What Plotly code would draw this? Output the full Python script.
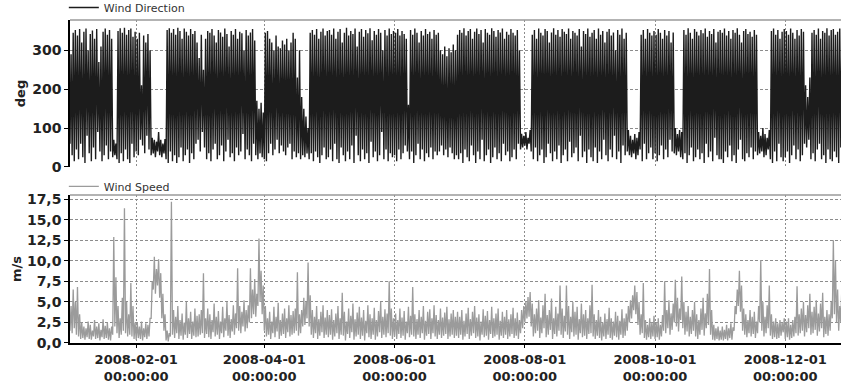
import pandas as pd
import plotly.graph_objects as go
from plotly.subplots import make_subplots

# ---- data: daily envelope (2008-01-01 .. 2008-12-31) ----
dir_hi = [
    # Jan
    290, 345, 352, 338, 355, 320, 348, 356, 300, 342, 351, 330, 355, 270, 310, 348, 356, 340, 352, 330, 70, 60, 350, 357, 345, 358, 340, 352, 356, 335, 348,
    # Feb
    330, 345, 210, 338, 320, 342, 300, 75, 70, 65, 90, 70, 60, 72, 352, 357, 345, 355, 340, 358, 350, 330, 356, 348, 338, 355, 342, 350, 320,
    # Mar
    280, 340, 250, 330, 350, 345, 355, 338, 320, 352, 346, 335, 356, 342, 310, 350, 340, 355, 330, 348, 344, 300, 352, 338, 346, 355, 325, 170, 150, 165, 140,
    # Apr
    345, 350, 330, 320, 300, 338, 310, 305, 325, 315, 330, 300, 320, 345, 330, 230, 300, 180, 150, 130, 100, 345, 352, 340, 355, 330, 348, 356, 338, 350,
    # May
    352, 340, 356, 330, 348, 355, 320, 345, 358, 338, 350, 342, 356, 310, 348, 355, 335, 352, 344, 357, 326, 350, 340, 355, 345, 300, 352, 338, 356, 342, 350,
    # Jun
    345, 355, 338, 350, 342, 330, 160, 352, 340, 356, 345, 320, 350, 338, 355, 342, 348, 330, 352, 340, 345, 300, 290, 310, 285, 305, 295, 315, 300, 340,
    # Jul
    352, 345, 357, 338, 350, 355, 330, 348, 356, 342, 352, 320, 355, 345, 340, 357, 350, 335, 352, 346, 356, 330, 348, 340, 355, 345, 338, 352, 300, 85, 80,
    # Aug
    90, 75, 95, 340, 352, 330, 356, 345, 338, 355, 350, 320, 346, 357, 340, 352, 335, 355, 348, 342, 356, 330, 350, 345, 338, 355, 310, 350, 342, 356, 335,
    # Sep
    345, 352, 330, 356, 340, 350, 320, 348, 355, 338, 346, 300, 352, 340, 356, 330, 345, 95, 80, 70, 85, 75, 90, 340, 352, 330, 355, 345, 338, 350,
    # Oct
    340, 355, 345, 330, 352, 338, 350, 320, 346, 100, 85, 95, 90, 352, 340, 357, 345, 330, 355, 348, 338, 352, 344, 356, 335, 350, 342, 355, 320, 348, 352,
    # Nov
    345, 356, 338, 350, 330, 352, 345, 357, 340, 320, 350, 355, 342, 348, 335, 352, 340, 90, 80, 100, 85, 75, 95, 350, 356, 340, 352, 330, 348, 355,
    # Dec
    350, 340, 356, 345, 330, 352, 338, 355, 348, 210, 180, 230, 345, 352, 340, 356, 330, 350, 345, 357, 338, 352, 355, 340, 348, 356, 335, 350, 345, 352, 340,
]
dir_lo = [
    60, 30, 15, 45, 20, 60, 25, 10, 80, 35, 15, 50, 20, 90, 40, 15, 30, 55, 20, 40, 25, 30, 20, 10, 35, 15, 45, 20, 10, 60, 25,
    40, 30, 70, 55, 35, 80, 45, 30, 35, 25, 40, 30, 25, 35, 20, 10, 40, 15, 30, 10, 25, 50, 15, 30, 45, 10, 35, 20, 60,
    70, 40, 90, 50, 20, 35, 15, 45, 60, 20, 30, 55, 15, 40, 70, 25, 35, 15, 50, 30, 40, 85, 20, 45, 30, 15, 60, 30, 20, 35, 25,
    20, 15, 35, 60, 30, 45, 70, 35, 55, 40, 30, 50, 60, 20, 40, 25, 35, 20, 30, 25, 35, 20, 35, 15, 40, 25, 10, 30, 50, 20,
    25, 45, 15, 60, 20, 10, 50, 30, 15, 40, 20, 55, 10, 80, 30, 15, 45, 20, 35, 10, 65, 25, 40, 15, 30, 90, 20, 45, 15, 35, 25,
    30, 15, 45, 20, 35, 55, 40, 20, 40, 10, 30, 60, 20, 45, 15, 35, 25, 50, 20, 40, 30, 40, 55, 30, 45, 25, 50, 35, 20, 30,
    20, 35, 10, 45, 25, 15, 55, 30, 10, 40, 20, 70, 15, 30, 45, 10, 25, 50, 20, 35, 15, 60, 30, 40, 15, 25, 45, 20, 60, 45, 50,
    55, 45, 60, 40, 20, 50, 15, 30, 45, 10, 25, 60, 35, 15, 40, 20, 55, 10, 30, 45, 15, 65, 25, 35, 50, 15, 80, 25, 40, 10, 45,
    25, 15, 50, 10, 40, 20, 70, 30, 15, 45, 25, 80, 20, 40, 10, 55, 30, 40, 30, 25, 35, 20, 30, 45, 15, 60, 20, 35, 50, 20,
    35, 15, 30, 55, 20, 45, 25, 70, 40, 35, 30, 40, 25, 20, 35, 10, 30, 50, 15, 25, 45, 20, 35, 10, 60, 25, 40, 15, 75, 30, 20,
    20, 10, 40, 25, 55, 15, 30, 10, 45, 70, 20, 15, 35, 25, 50, 20, 40, 30, 35, 40, 25, 30, 45, 20, 10, 40, 15, 60, 25, 15,
    25, 40, 10, 30, 55, 20, 45, 15, 30, 60, 50, 70, 20, 35, 15, 45, 60, 20, 30, 10, 45, 20, 15, 40, 25, 10, 50, 30, 20, 35, 25,
]
spd_hi = [
    4.5, 6.5, 5.0, 6.8, 3.5, 2.5, 2.0, 1.8, 2.6, 2.2, 1.5, 2.8, 2.0, 2.4, 1.6, 2.9, 2.1, 2.5, 1.8, 2.0, 12.9, 8.0, 4.5, 3.0, 5.5, 16.4, 5.0, 3.5, 7.3, 4.5, 2.5,
    2.5, 2.0, 2.6, 1.8, 2.4, 2.2, 3.0, 7.5, 10.5, 9.0, 10.2, 8.5, 6.0, 3.5, 1.5, 1.2, 17.2, 4.0, 3.2, 4.5, 2.8, 3.6, 2.5, 5.0, 3.0, 3.8, 2.6, 4.2, 3.3,
    3.5, 4.0, 8.5, 3.0, 4.2, 3.5, 2.8, 4.8, 3.2, 3.9, 2.6, 4.4, 3.0, 5.0, 3.4, 2.9, 4.6, 3.6, 9.1, 4.5, 3.8, 5.2, 4.0, 4.6, 9.1, 6.5, 7.8, 6.0, 12.7, 8.8, 7.0,
    4.5, 3.0, 3.8, 2.6, 4.4, 3.2, 4.9, 2.8, 3.6, 4.2, 3.0, 4.6, 3.4, 3.9, 4.2, 8.6, 3.5, 4.0, 5.5, 5.0, 9.8, 5.8, 4.0, 3.2, 4.5, 2.9, 3.8, 4.6, 3.1, 4.0,
    3.4, 4.1, 2.8, 3.6, 4.5, 3.0, 6.1, 3.8, 2.6, 4.2, 3.3, 4.8, 2.9, 3.7, 4.4, 3.1, 4.0, 2.7, 4.6, 3.5, 3.0, 4.3, 2.8, 3.9, 5.0, 3.2, 4.1, 3.6, 7.5, 4.2, 3.0,
    3.6, 2.8, 4.2, 3.1, 3.9, 2.6, 4.4, 3.3, 6.8, 3.5, 2.9, 4.0, 3.2, 4.5, 2.7, 3.8, 4.1, 3.0, 4.6, 3.4, 2.8, 4.2, 3.1, 3.7, 4.4, 2.9, 3.6, 4.0, 3.2, 3.8,
    3.2, 4.0, 2.7, 3.6, 4.3, 2.9, 3.8, 4.5, 3.1, 3.5, 2.6, 4.1, 3.3, 3.9, 2.8, 4.4, 3.0, 3.6, 4.2, 2.7, 3.8, 3.2, 4.0, 2.9, 3.5, 4.3, 3.0, 3.7, 2.8, 4.0, 4.5,
    5.0, 5.6, 6.2, 4.8, 3.5, 4.2, 5.2, 3.1, 4.6, 6.0, 3.4, 4.0, 5.4, 3.0, 4.4, 3.6, 7.0, 4.2, 3.3, 7.0, 4.5, 3.2, 5.0, 3.8, 4.4, 2.9, 4.8, 3.5, 4.0, 3.0, 4.6,
    7.1, 3.5, 2.8, 4.0, 3.2, 2.5, 3.6, 2.9, 4.3, 3.0, 2.6, 3.8, 3.3, 2.7, 4.1, 3.0, 3.6, 4.5, 5.2, 5.8, 7.0, 6.2, 5.0, 3.5, 7.3, 2.8, 2.2, 3.0, 2.5, 3.3,
    2.5, 3.0, 2.2, 3.4, 7.5, 4.0, 5.2, 3.6, 4.8, 7.7, 5.5, 4.2, 8.1, 5.0, 3.8, 4.5, 3.2, 4.0, 5.0, 3.5, 2.8, 4.2, 5.5, 3.6, 6.0, 9.0, 4.0, 2.2, 1.8, 2.0, 1.5,
    2.0, 1.6, 2.2, 1.8, 2.4, 1.9, 4.5, 6.5, 8.8, 7.0, 4.2, 3.5, 2.8, 4.0, 3.2, 3.8, 2.6, 4.5, 10.1, 5.0, 3.2, 4.6, 7.0, 3.5, 2.6, 3.0, 2.4, 2.8, 2.5, 3.0,
    2.6, 3.0, 2.2, 2.8, 3.2, 6.9, 3.5, 4.2, 5.0, 3.4, 4.6, 6.0, 3.8, 4.4, 5.2, 3.6, 4.8, 6.1, 3.2, 4.0, 3.5, 5.0, 12.5, 10.0, 6.5, 4.5, 7.0, 5.5, 4.0, 3.6, 4.2,
]
spd_lo = [
    1.5, 1.2, 1.8, 1.0, 0.8, 0.5, 0.6, 0.4, 0.7, 0.5, 0.4, 0.8, 0.5, 0.6, 0.3, 0.7, 0.5, 0.6, 0.4, 0.3, 1.0, 2.0, 1.2, 0.6, 1.0, 1.5, 1.2, 0.8, 1.0, 0.8, 0.5,
    0.4, 0.6, 0.5, 0.3, 0.7, 0.5, 0.8, 3.0, 6.5, 6.0, 7.0, 5.5, 3.0, 1.5, 0.3, 0.2, 0.8, 1.0, 0.6, 1.2, 0.5, 0.9, 0.4, 1.0, 0.6, 1.1, 0.5, 0.9, 0.7,
    0.8, 1.0, 1.2, 0.6, 1.1, 0.7, 0.5, 1.3, 0.8, 1.0, 0.5, 1.2, 0.7, 1.5, 0.9, 0.6, 1.4, 1.0, 1.8, 1.5, 1.2, 2.0, 1.4, 1.8, 2.5, 3.0, 3.5, 3.2, 4.5, 5.0, 3.5,
    1.5, 0.8, 1.0, 0.5, 1.2, 0.7, 1.4, 0.5, 0.9, 1.1, 0.6, 1.3, 0.8, 1.0, 1.2, 1.5, 0.9, 1.2, 2.0, 2.2, 3.0, 2.0, 1.0, 0.6, 1.2, 0.5, 0.9, 1.3, 0.6, 1.0,
    0.7, 1.0, 0.4, 0.8, 1.2, 0.5, 1.0, 0.9, 0.3, 1.1, 0.6, 1.3, 0.4, 0.8, 1.0, 0.5, 0.9, 0.3, 1.2, 0.7, 0.5, 1.0, 0.4, 0.8, 1.3, 0.6, 1.0, 0.7, 1.2, 0.9, 0.5,
    0.8, 0.5, 1.1, 0.6, 0.9, 0.4, 1.2, 0.7, 1.0, 0.8, 0.5, 1.0, 0.6, 1.2, 0.4, 0.9, 1.1, 0.5, 1.2, 0.8, 0.5, 1.0, 0.6, 0.9, 1.1, 0.5, 0.8, 1.0, 0.6, 0.9,
    0.6, 1.0, 0.4, 0.8, 1.1, 0.5, 0.9, 1.2, 0.6, 0.8, 0.3, 1.0, 0.7, 0.9, 0.4, 1.1, 0.6, 0.8, 1.0, 0.4, 0.9, 0.6, 1.0, 0.5, 0.8, 1.1, 0.6, 0.9, 0.5, 1.2, 1.8,
    2.5, 3.0, 3.2, 2.0, 0.8, 1.2, 1.5, 0.6, 1.2, 1.8, 0.7, 1.0, 1.6, 0.5, 1.1, 0.8, 1.5, 1.0, 0.6, 1.4, 1.0, 0.5, 1.3, 0.8, 1.0, 0.4, 1.2, 0.7, 0.9, 0.5, 1.1,
    1.2, 0.8, 0.5, 0.9, 0.6, 0.3, 0.8, 0.5, 1.0, 0.6, 0.4, 0.9, 0.7, 0.4, 1.0, 0.6, 0.9, 1.5, 2.5, 3.0, 4.0, 3.5, 2.2, 1.0, 1.2, 0.6, 0.4, 0.7, 0.5, 0.8,
    0.5, 0.7, 0.4, 0.8, 1.5, 1.2, 1.8, 1.0, 1.6, 2.5, 2.0, 1.4, 2.8, 1.8, 1.0, 1.4, 0.8, 1.1, 1.5, 0.8, 0.5, 1.0, 1.6, 0.9, 1.8, 2.2, 1.0, 0.4, 0.3, 0.5, 0.3,
    0.4, 0.3, 0.5, 0.3, 0.6, 0.4, 1.5, 3.5, 4.5, 3.8, 1.5, 1.0, 0.7, 1.2, 0.8, 1.1, 0.6, 1.2, 2.5, 1.5, 0.8, 1.2, 1.8, 0.9, 0.5, 0.7, 0.5, 0.6, 0.9, 1.3,
    0.5, 0.7, 0.4, 0.6, 0.8, 1.2, 0.9, 1.2, 1.5, 0.8, 1.3, 1.8, 1.0, 1.2, 1.6, 0.9, 1.4, 1.8, 0.7, 1.1, 0.9, 1.5, 3.0, 3.5, 2.5, 1.5, 2.5, 1.8, 1.2, 1.0, 1.3,
]
tick_dates = ["2008-02-01", "2008-04-01", "2008-06-01", "2008-08-01", "2008-10-01", "2008-12-01"]
tick_text = [d + "<br>00:00:00" for d in tick_dates]
dir_ticks = [0, 100, 200, 300]
spd_ticks = [0, 2.5, 5, 7.5, 10, 12.5, 15, 17.5]

# ---- build the 12-hourly series (low at 00:00, high at 12:00) ----
days = pd.date_range("2008-01-01", periods=366, freq="D")


def zigzag(lo, hi):
    n = min(len(lo), len(hi), len(days))
    xs, ys = [], []
    for i in range(n):
        xs += [days[i], days[i] + pd.Timedelta(hours=12)]
        ys += [lo[i], hi[i]]
    return xs, ys


xd, yd = zigzag(dir_lo, dir_hi)
xs, ys = zigzag(spd_lo, spd_hi)

fig = make_subplots(rows=2, cols=1, shared_xaxes=False, vertical_spacing=0.0)
fig.add_trace(go.Scatter(x=xd, y=yd, mode="lines", name="Wind Direction",
                         line=dict(color="#1c1c1c", width=1.4), legend="legend"), row=1, col=1)
fig.add_trace(go.Scatter(x=xs, y=ys, mode="lines", name="Wind Speed",
                         line=dict(color="#9b9b9b", width=1.3), legend="legend2"), row=2, col=1)

FONT = "DejaVu Sans"
ytick_font = dict(family=FONT, size=14, color="#222222", weight="bold")
xtick_font = dict(family=FONT, size=13, color="#222222", weight="bold")
xr = ["2008-01-01", "2008-12-27 02:00"]

common_x = dict(range=xr, tickmode="array", tickvals=tick_dates, showgrid=True,
                gridcolor="#8c8c8c", griddash="2px,2px", gridwidth=1, zeroline=False)
fig.update_xaxes(**common_x, showticklabels=False, ticks="", showline=False, row=1, col=1)
fig.update_xaxes(**common_x, ticktext=tick_text, showticklabels=True, ticks="outside",
                 ticklen=3, tickcolor="#000", showline=True, linecolor="#000", linewidth=2,
                 tickfont=xtick_font, row=2, col=1)

common_y = dict(showgrid=True, gridcolor="#8c8c8c", griddash="3px,2px", gridwidth=1,
                zeroline=False, showline=True, linecolor="#000", linewidth=1.5,
                ticks="outside", ticklen=4, tickcolor="#000", tickfont=ytick_font)
fig.update_yaxes(**common_y, range=[0, 378], tickvals=dir_ticks,
                 title=dict(text="deg", font=dict(family=FONT, size=13, color="#222", weight="bold"), standoff=4),
                 domain=[0.545, 1.0], row=1, col=1)
fig.update_yaxes(**common_y, range=[0, 18], tickvals=spd_ticks, tickformat=".1f",
                 title=dict(text="m/s", font=dict(family=FONT, size=13, color="#222", weight="bold"), standoff=2),
                 domain=[0.0, 0.458], row=2, col=1)

# grey top borders of the two panels
for yref in ["y domain", "y2 domain"]:
    fig.add_shape(type="line", xref="paper", yref=yref, x0=0, x1=1, y0=1, y1=1,
                  line=dict(color="#9a9a9a", width=1.5))

leg = dict(xanchor="left", yanchor="bottom", bgcolor="rgba(0,0,0,0)", borderwidth=0,
           font=dict(family=FONT, size=11, color="#333"), itemwidth=30, tracegroupgap=0)
fig.update_layout(
    width=843, height=383,
    margin=dict(l=70, r=2, t=20, b=40, autoexpand=False),
    paper_bgcolor="white", plot_bgcolor="white",
    separators=", ",
    showlegend=True,
    legend=dict(**leg, x=-0.008, y=0.994),
    legend2=dict(**leg, x=-0.008, y=0.44),
)

fig.write_html("out.html")
